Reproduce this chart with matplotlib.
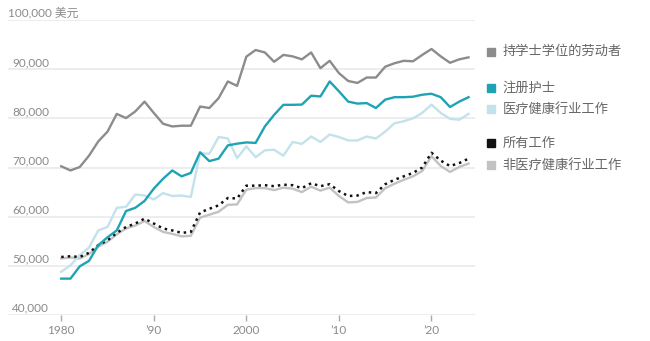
#Bibliotecas
import numpy as np
import matplotlib
matplotlib.use("Agg")
import matplotlib.pyplot as plt
from matplotlib.patches import Rectangle

#datos
years = list(range(1980, 2025))

bachelor = [70250, 69400, 70100, 72400, 75300, 77300, 80900, 80050, 81400, 83400,
            81100, 78900, 78350, 78500, 78500, 82400, 82100, 84100, 87500, 86600,
            92550, 93900, 93400, 91500, 92900, 92600, 92000, 93400, 90200, 91700,
            89200, 87600, 87200, 88300, 88300, 90500, 91200, 91700, 91600, 92900,
            94100, 92600, 91300, 92000, 92400]

nurses = [47400, 47400, 49900, 51000, 54200, 55800, 57200, 61150, 61800, 63200,
          65700, 67700, 69400, 68200, 68900, 73100, 71300, 71800, 74500, 74850,
          75100, 75000, 78350, 80700, 82750, 82750, 82800, 84600, 84450, 87500,
          85500, 83400, 83000, 83100, 82100, 83800, 84300, 84300, 84400, 84800,
          85000, 84300, 82300, 83400, 84300]

health_jobs = [48800, 50100, 52200, 53700, 57200, 57900, 61800, 62000, 64500, 64300,
               63500, 64800, 64200, 64300, 64000, 72900, 72800, 76200, 75900, 71900,
               74300, 72100, 73500, 73600, 72400, 75200, 74800, 76300, 75200, 76700,
               76200, 75500, 75500, 76300, 75900, 77300, 79000, 79400, 80000, 81100,
               82800, 81100, 79900, 79700, 80900]

all_jobs = [51800, 51950, 51800, 52650, 54200, 55200, 56700, 57900, 58600, 59600,
            58600, 57600, 57200, 56700, 56900, 60850, 61600, 62300, 63800, 63700,
            66300, 66300, 66400, 66200, 66500, 66400, 65800, 66800, 66200, 66600,
            65200, 64200, 64300, 65000, 64800, 66600, 67500, 68200, 68900, 70000,
            73000, 71400, 70300, 70900, 71800]

non_health = [51500, 51700, 51500, 52400, 53900, 54900, 56400, 57600, 58200, 59100,
              57900, 56900, 56500, 56000, 56100, 59800, 60400, 61000, 62400, 62500,
              65500, 65800, 65800, 65400, 65900, 65700, 65000, 66100, 65300, 65900,
              64200, 62900, 63000, 63800, 63900, 65800, 66700, 67500, 68200, 69300,
              72300, 70300, 69100, 70100, 70800]

y_ticks = [40000, 50000, 60000, 70000, 80000, 90000, 100000]
x_ticks = [1980, 1990, 2000, 2010, 2020]
x_labels = ['1980', "\u201990", '2000', "\u201910", "\u201920"]

legend_labels = ['持学士学位的劳动者', '注册护士', '医疗健康行业工作', '所有工作', '非医疗健康行业工作']

#colores
c_bach = '#8c8c8c'
c_nurse = '#1ea3b4'
c_health = '#c3e2ec'
c_all = '#111111'
c_non = '#c2c2c2'
legend_colors = [c_bach, c_nurse, c_health, c_all, c_non]

plt.rcParams['font.family'] = ['Lato', 'Noto Sans CJK SC', 'DejaVu Sans']

fig = plt.figure(figsize=(6.5, 3.41), dpi=100)
ax = fig.add_axes([8/650, 1 - 315/341, (475 - 8)/650, (315 - 20)/341])

ax.plot(years, non_health, color=c_non, lw=1.7, zorder=3)
ax.plot(years, all_jobs, color=c_all, lw=1.8, linestyle=(0, (1, 1.6)), zorder=4)
ax.plot(years, health_jobs, color=c_health, lw=1.7, zorder=3)
ax.plot(years, nurses, color=c_nurse, lw=1.7, zorder=4)
ax.plot(years, bachelor, color=c_bach, lw=1.7, zorder=4)

ax.set_xlim(1974.25, 2024.7)
ax.set_ylim(40000, 100000)

for v in y_ticks:
    ax.axhline(v, color='#ececec', lw=1.3, zorder=1)
    txt = f'{v:,}'
    if v == 100000:
        txt = txt + ' 美元'
        ax.text(0.0, v + 250, txt, transform=ax.get_yaxis_transform(), ha='left', va='bottom',
                fontsize=8.5, color='#8a8a8a', zorder=5)
    else:
        ax.text(41/467, v + 250, txt, transform=ax.get_yaxis_transform(), ha='right', va='bottom',
                fontsize=8.5, color='#8a8a8a', zorder=5)

ax.set_yticks([])
ax.set_xticks(x_ticks)
ax.set_xticklabels(x_labels)
ax.tick_params(axis='x', length=4, width=1, color='#aaaaaa', labelsize=8.5,
               labelcolor='#8a8a8a', pad=3)
for s in ax.spines.values():
    s.set_visible(False)

#leyenda
legend_y = [51.7, 88.3, 109.3, 143.3, 165]
for lab, col, yy in zip(legend_labels, legend_colors, legend_y):
    fy = 1 - yy/341
    fig.add_artist(Rectangle((487/650, fy - 4/341), 8/650, 8/341, color=col,
                             transform=fig.transFigure))
    fig.text(502.5/650, fy, lab, fontsize=9.5, color='#666666', va='center', ha='left',
             family=['Noto Sans CJK SC', 'DejaVu Sans'])

fig.savefig('out.png', dpi=100)
